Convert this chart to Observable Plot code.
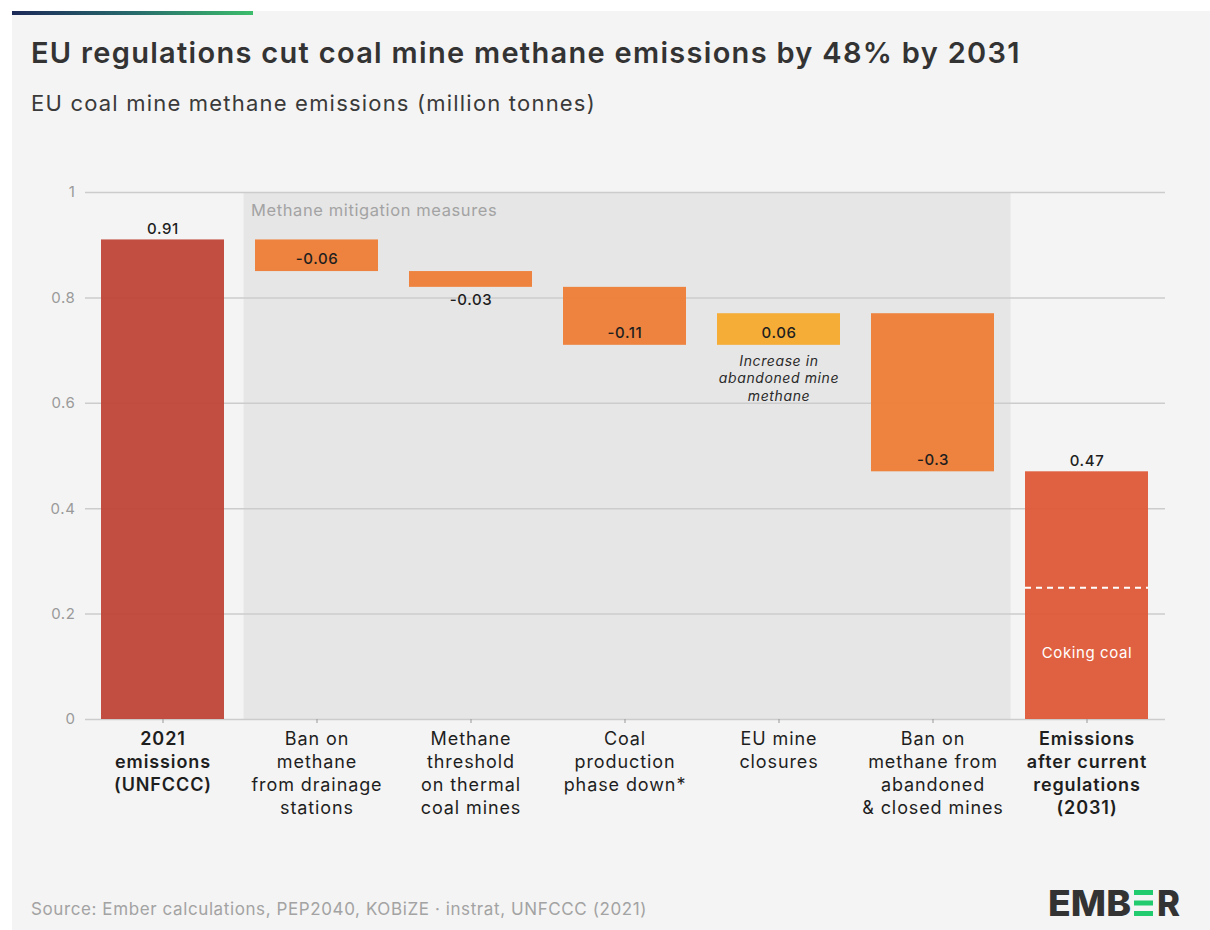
<!DOCTYPE html>
<html>
<head>
<meta charset="utf-8">
<script src="https://cdn.jsdelivr.net/npm/d3@7"></script>
<script src="https://cdn.jsdelivr.net/npm/@observablehq/plot@0.6"></script>
<style>
  html, body { margin: 0; padding: 0; background: #ffffff; }
  body { width: 1210px; height: 930px; position: relative; font-family: Inter, "Noto Sans", sans-serif; }
  #card { position: absolute; left: 12px; top: 11px; width: 1198px; height: 919px; background: #f4f4f4; }
  #accent { position: absolute; left: 12px; top: 11px; width: 241px; height: 4px;
            background: linear-gradient(90deg, #1c2957 0%, #276a6c 50%, #3cbd6c 100%); }
  #title { position: absolute; left: 31px; top: 34px; font-size: 29px; line-height: 1.3; font-weight: 600; color: #333; white-space: nowrap; letter-spacing: 1.3px; }
  #subtitle { position: absolute; left: 31px; top: 89px; font-size: 22px; line-height: 1.3; font-weight: 400; color: #3a3a3a; white-space: nowrap; letter-spacing: 1.2px; }
  #chart { position: absolute; left: 0; top: 160px; width: 1210px; height: 680px; }
  #chart g[font-size="18"] { letter-spacing: 0.9px; }
  #source { position: absolute; left: 31px; top: 898px; font-size: 17px; line-height: 1.3; color: #a3a3a3; white-space: nowrap; letter-spacing: 0.6px; }
  #logo { position: absolute; left: 1040px; top: 880px; }
</style>
</head>
<body>
<div id="card"></div>
<div id="accent"></div>
<div id="title">EU regulations cut coal mine methane emissions by 48% by 2031</div>
<div id="subtitle">EU coal mine methane emissions (million tonnes)</div>
<div id="chart"></div>
<div id="source">Source: Ember calculations, PEP2040, KOBiZE · instrat, UNFCCC (2021)</div>
<svg id="logo" width="150" height="45" viewBox="0 0 150 45">
  <text x="8" y="36" font-family="Inter, sans-serif" font-weight="800" font-size="36" fill="#333" textLength="83" lengthAdjust="spacingAndGlyphs">EMB</text>
  <rect x="94" y="10" width="19" height="5" fill="#22cc6e"></rect>
  <rect x="94" y="20.5" width="19" height="5" fill="#22cc6e"></rect>
  <rect x="94" y="31" width="19" height="5" fill="#22cc6e"></rect>
  <text x="117" y="36" font-family="Inter, sans-serif" font-weight="800" font-size="36" fill="#333" textLength="23" lengthAdjust="spacingAndGlyphs">R</text>
</svg>
<script>
// Waterfall categories (axis labels, line-broken)
const categories = [
  "2021\nemissions\n(UNFCCC)",
  "Ban on\nmethane\nfrom drainage\nstations",
  "Methane\nthreshold\non thermal\ncoal mines",
  "Coal\nproduction\nphase down*",
  "EU mine\nclosures",
  "Ban on\nmethane from\nabandoned\n& closed mines",
  "Emissions\nafter current\nregulations\n(2031)"
];

// Emissions, million tonnes
const startTotal = 0.91;
const measureChanges = [-0.06, -0.03, -0.11, 0.06, -0.3];
const endTotal = 0.47;
const cokingCoal = 0.25;

const yTicks = [0, 0.2, 0.4, 0.6, 0.8, 1];

const shadedLabel = "Methane mitigation measures";
const increaseNote = "Increase in\nabandoned mine\nmethane";
const cokingLabel = "Coking coal";

// Layout
const width = 1210;
const marginLeft = 85, marginRight = 45, marginTop = 32, marginBottom = 110;
const innerHeight = 527;
const height = marginTop + innerHeight + marginBottom;
const paddingInner = 0.2, paddingOuter = 0.1;
const step = (width - marginLeft - marginRight) / (categories.length - paddingInner + 2 * paddingOuter);
const halfGap = step * paddingInner / 2;
const measureCount = categories.length - 2;
const tickLength = 4 / innerHeight; // 4px tick below the baseline, in y units

const colors = {start: "#bf4537", decrease: "#ed7d36", increase: "#f5aa2e", end: "#dd5937"};

// Build the running waterfall
const bars = [{name: categories[0], kind: "start", y1: 0, y2: startTotal, value: startTotal}];
let level = startTotal;
measureChanges.forEach((change, i) => {
  const from = level;
  level = Math.round((level + change) * 100) / 100;
  bars.push({name: categories[i + 1], kind: change < 0 ? "decrease" : "increase", y1: from, y2: level, value: change});
});
bars.push({name: categories[categories.length - 1], kind: "end", y1: 0, y2: endTotal, value: endTotal});

// Value label placement: totals above, steps at their lower end (inside if the bar is tall enough)
const pxPerUnit = innerHeight;
const totalLabels = bars.filter(d => d.kind === "start" || d.kind === "end").map(d => ({...d, y: d.y2}));
const stepBars = bars.filter(d => d.kind === "decrease" || d.kind === "increase");
const insideLabels = stepBars.filter(d => Math.abs(d.value) * pxPerUnit >= 24).map(d => ({...d, y: Math.min(d.y1, d.y2)}));
const belowLabels = stepBars.filter(d => Math.abs(d.value) * pxPerUnit < 24).map(d => ({...d, y: Math.min(d.y1, d.y2)}));

const increaseBar = bars.find(d => d.kind === "increase");
const endBar = bars[bars.length - 1];
const labelStyle = {x: "name", y: "y", text: d => String(d.value), fontSize: 15, fontWeight: 500, fill: "#1e1e1e"};
const catLabelStyle = {x: d => d, y: 0, text: d => d, lineAnchor: "top", dy: 9, fontSize: 18, lineHeight: 1.28, fill: "#1e1e1e"};

const chart = Plot.plot({
  width, height, marginLeft, marginRight, marginTop, marginBottom,
  style: {fontFamily: "Inter, 'Noto Sans', sans-serif", fontSize: "15px", background: "transparent", letterSpacing: "0.6px"},
  x: {domain: categories, paddingInner, paddingOuter, label: null, axis: null},
  y: {domain: [0, 1], label: null, axis: null},
  marks: [
    // one continuous shaded panel behind the mitigation measures
    Plot.barY(categories.slice(1, 2), {x: d => d, y1: 0, y2: 1, fill: "#e6e6e6",
      insetLeft: -halfGap + 4, insetRight: -((measureCount - 1) * step + halfGap)}),
    Plot.gridY(yTicks, {stroke: "#cccccc", strokeOpacity: 1, strokeWidth: 1.5}),
    // y tick labels
    Plot.text(yTicks, {y: d => d, text: d3.format("~g"), frameAnchor: "left", textAnchor: "end", dx: -10, fill: "#9a9a9a", fontSize: 15}),
    Plot.text(categories.slice(1, 2), {x: d => d, y: 1, text: () => shadedLabel, textAnchor: "start", dx: -66, dy: 18, fill: "#a3a3a3", fontSize: 16.5}),
    Plot.barY(bars, {x: "name", y1: "y1", y2: "y2", fill: d => colors[d.kind], fillOpacity: 0.95}),
    Plot.tickY([endBar], {x: "name", y: () => cokingCoal, stroke: "#ffffff", strokeWidth: 2, strokeDasharray: "6,5"}),
    Plot.text([endBar], {x: "name", y: () => cokingCoal / 2, text: () => cokingLabel, fill: "#ffffff", fontSize: 15}),
    Plot.text(totalLabels, {...labelStyle, dy: -11}),
    Plot.text(insideLabels, {...labelStyle, dy: -12}),
    Plot.text(belowLabels, {...labelStyle, dy: 13}),
    Plot.text([increaseBar], {x: "name", y: d => Math.min(d.y1, d.y2), text: () => increaseNote, lineAnchor: "top", dy: 8, fontStyle: "italic", fontSize: 14, lineHeight: 1.25, fill: "#2a2a2a"}),
    // category ticks and labels along the baseline
    Plot.ruleX(categories, {x: d => d, y1: 0, y2: -tickLength, stroke: "#999"}),
    Plot.text(categories.slice(1, -1), catLabelStyle),
    Plot.text([categories[0], categories[categories.length - 1]], {...catLabelStyle, fontWeight: 600})
  ]
});
document.getElementById("chart").appendChild(chart);
</script>
</body>
</html>
